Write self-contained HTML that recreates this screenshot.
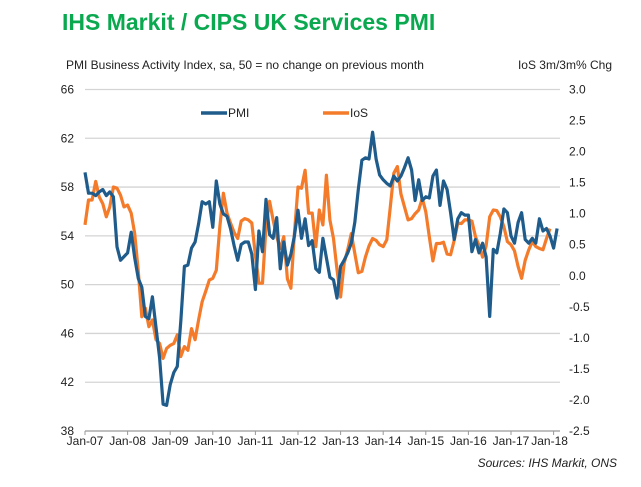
<!DOCTYPE html>
<html><head><meta charset="utf-8"><style>
body{margin:0;background:#fff;width:641px;height:487px;overflow:hidden;font-family:"Liberation Sans",Arial,sans-serif;}
svg{display:block}
</style></head><body>
<svg width="641" height="487" id="chart">
<text x="62" y="30" font-size="23" font-weight="bold" fill="#0aa84f">IHS Markit / CIPS UK Services PMI</text>
<text x="66" y="69" font-size="12" fill="#222">PMI Business Activity Index, sa, 50 = no change on previous month</text>
<text x="612" y="69" font-size="12" fill="#222" text-anchor="end">IoS 3m/3m% Chg</text>
<text x="617" y="467" font-size="12" font-style="italic" fill="#222" text-anchor="end">Sources: IHS Markit, ONS</text>
<g id="grid"></g><g id="axes"></g><g id="series"></g>
<g>
<line x1="201" y1="113" x2="227" y2="113" stroke="#1f5c8b" stroke-width="3.5"/>
<text x="228" y="117" font-size="12" fill="#222">PMI</text>
<line x1="323" y1="113" x2="349" y2="113" stroke="#f47b2a" stroke-width="3.5"/>
<text x="350" y="117" font-size="12" fill="#222">IoS</text>
</g>
</svg>
<script>
const yearLabels=["Jan-07","Jan-08","Jan-09","Jan-10","Jan-11","Jan-12","Jan-13","Jan-14","Jan-15","Jan-16","Jan-17","Jan-18"];
const leftTicks=[38,42,46,50,54,58,62,66];
const rightTicks=[-2.5,-2.0,-1.5,-1.0,-0.5,0.0,0.5,1.0,1.5,2.0,2.5,3.0];
const pmi=[59.2,57.5,57.5,57.3,57.6,57.8,57.3,57.6,57.2,53.1,52.0,52.3,
52.6,54.3,52.2,50.5,49.8,47.4,47.2,49.0,46.5,44.0,40.2,40.1,
41.8,42.8,43.3,47.0,51.5,51.6,53.0,53.5,55.0,56.8,56.6,56.8,
54.7,58.5,56.6,55.8,55.6,54.6,53.2,52.0,53.3,53.5,53.5,52.5,
49.6,54.4,52.7,57.0,54.1,53.8,55.5,51.3,53.5,51.6,52.5,54.0,
56.1,53.8,55.4,53.2,53.6,51.3,51.0,53.8,52.2,50.6,50.4,48.9,
51.5,52.0,52.6,53.4,55.1,57.8,60.2,60.4,60.3,62.5,60.3,59.0,
58.6,58.3,58.1,58.9,58.5,58.9,59.6,60.4,59.4,56.9,58.6,56.9,
57.2,57.1,58.9,59.4,56.5,58.5,57.8,55.9,53.7,55.4,55.9,55.7,
55.7,52.7,53.7,52.6,53.4,52.3,47.4,52.9,52.6,54.2,56.2,55.9,
54.0,53.4,55.1,55.9,53.7,53.4,53.8,53.4,55.4,54.4,54.6,54.0,53.0,54.6];
const ios=[0.82,1.22,1.22,1.52,1.27,1.16,0.95,1.11,1.43,1.41,1.30,1.11,
1.14,1.01,0.68,0.07,-0.66,-0.52,-0.82,-0.71,-1.03,-1.09,-1.33,-1.17,
-1.12,-1.09,-0.95,-1.30,-1.14,-1.20,-0.85,-1.03,-0.71,-0.42,-0.25,-0.07,
-0.04,0.09,0.80,1.33,1.01,0.85,0.70,0.60,0.88,0.92,0.90,0.85,
0.33,-0.12,-0.12,0.80,1.20,0.90,0.63,0.44,0.63,-0.05,-0.20,0.68,
1.43,1.41,1.70,1.01,1.01,0.47,1.06,0.82,1.62,0.90,0.60,0.10,
-0.34,0.20,0.42,0.68,0.36,0.05,0.07,0.30,0.48,0.60,0.57,0.50,
0.47,0.58,1.11,1.65,1.76,1.32,1.11,0.90,0.92,1.00,1.06,1.25,
1.03,0.63,0.24,0.52,0.52,0.54,0.35,0.34,0.57,0.85,0.84,0.90,
0.90,0.88,0.63,0.49,0.30,0.48,0.95,1.06,1.05,0.95,0.79,0.55,
0.50,0.40,0.15,-0.04,0.25,0.42,0.55,0.47,0.44,0.42,0.60,0.76];
const NS="http://www.w3.org/2000/svg";
const X0=85,PX_PER_MONTH=3.55,TOP=89.5,BOT=431,GL=85,GR=560;
function xm(i){return X0+PX_PER_MONTH*i;}
function yl(v){return BOT-(v-38)/(66-38)*(BOT-TOP);}
function yr(v){return BOT-(v+2.5)/(3+2.5)*(BOT-TOP);}
function mk(tag,attrs,parent){const e=document.createElementNS(NS,tag);for(const k in attrs)e.setAttribute(k,attrs[k]);parent.appendChild(e);return e;}
const grid=document.getElementById('grid'),axes=document.getElementById('axes'),series=document.getElementById('series');
leftTicks.forEach(v=>{
  const y=yl(v);
  const ln=mk('line',{x1:GL,x2:GR,y1:y,y2:y,stroke:v===38?'#999':'#d4d4d4','stroke-width':v===38?1.2:1.3},grid);
  
  
  const t=mk('text',{x:74,y:y+4,'font-size':12,fill:'#222','text-anchor':'end'},axes);
  t.textContent=v;
  
  
});
rightTicks.forEach(v=>{
  const t=mk('text',{x:569,y:yr(v)+4,'font-size':12,fill:'#222'},axes);
  t.textContent=v.toFixed(1);
  
  
});
yearLabels.forEach((s,k)=>{
  const x=xm(k*12);
  const tk=mk('line',{x1:x,x2:x,y1:BOT,y2:BOT+4,stroke:'#999'},axes);
  
  
  const t=mk('text',{x:x+(k===11?-4:0),y:BOT+14,'font-size':12,fill:'#222','text-anchor':'middle'},axes);
  t.textContent=s;
  
  
});
function line(arr,yf,color,name){
  const d=arr.map((v,i)=>(i?'L':'M')+xm(i).toFixed(1)+' '+yf(v).toFixed(1)).join(' ');
  const p=mk('path',{d:d,fill:'none',stroke:color,'stroke-width':3.2,'stroke-linejoin':'round'},series);
  
  
}
line(ios,yr,'#f47b2a','ios-line');
line(pmi,yl,'#1f5c8b','pmi-line');
</script>
</body></html>
